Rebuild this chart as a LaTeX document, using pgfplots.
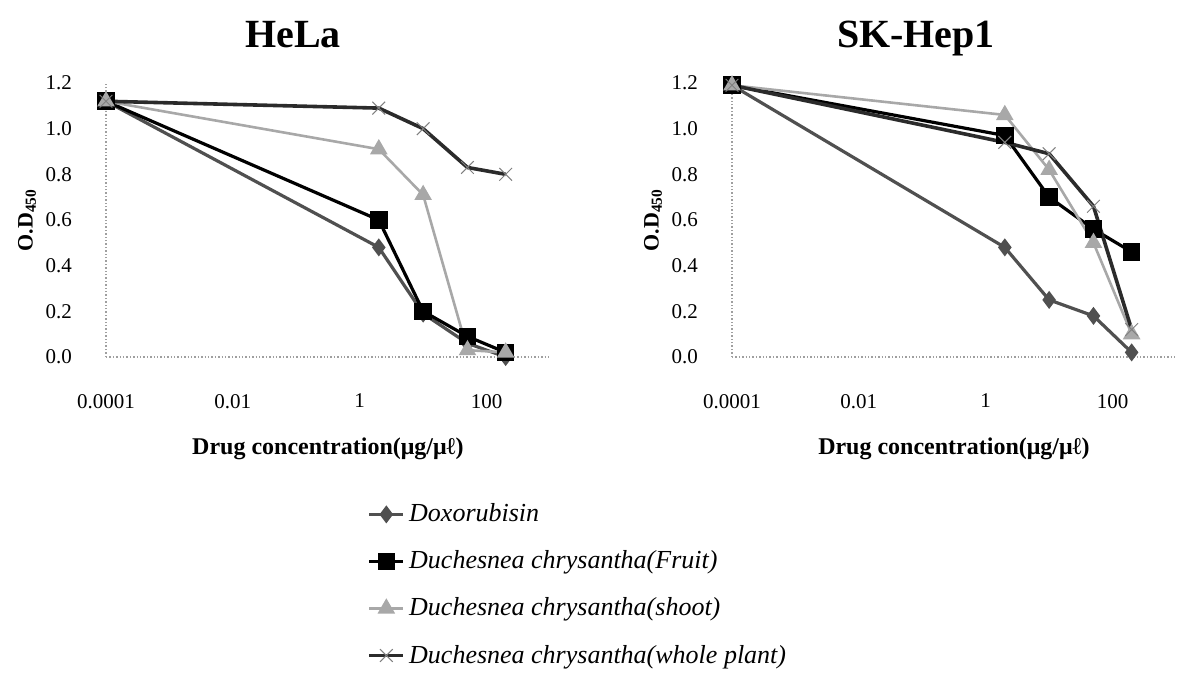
\documentclass[border=0pt]{standalone}
\usepackage{pgfplots}
\pgfplotsset{compat=1.18}
\usepackage{fontspec}
\setmainfont{Liberation Serif}
\definecolor{dox}{HTML}{505050}
\definecolor{shoot}{HTML}{A8A8A8}
\definecolor{whole}{HTML}{2B2B2B}
\begin{document}
\begin{tikzpicture}
\useasboundingbox (0pt,0pt) rectangle (589.5pt,347pt);
\pgfplotsset{
  every axis/.append style={
    scale only axis, width=222pt, height=137pt,
    xmode=log, xmin=1e-4, xmax=1e3, ymin=0, ymax=1.2,
    axis x line=bottom, axis y line=left,
    axis line style={-, draw=gray!75, line width=0.7pt, densely dotted},
    xtick={0.0001,0.01,1,100}, xticklabels={0.0001,0.01,1,100},
    ytick={0,0.2,0.4,0.6,0.8,1.0,1.2},
    yticklabels={0.0,0.2,0.4,0.6,0.8,1.0,1.2},
    major tick length=0pt, minor tick num=0,
    /pgf/number format/assume math mode=true,
    tick label style={font=\fontsize{10.5}{12}\selectfont},
    xticklabel style={yshift=-15pt},
    yticklabel style={xshift=-13.5pt},
    clip=false,
    xlabel={Drug concentration(μg/μℓ)},
    xlabel style={font=\bfseries\fontsize{12}{14}\selectfont, at={(axis description cs:0.5,-0.336)}, anchor=center},
    ylabel={O.D\textsubscript{450}},
    ylabel style={font=\bfseries\fontsize{11}{13}\selectfont, at={(axis description cs:-0.178,0.5)}, anchor=center},
  },
  dox/.style={color=dox, line width=1.6pt, mark=diamond*, mark size=3.2pt, mark options={solid, fill=dox}},
  fruit/.style={color=black, line width=1.6pt, mark=square*, mark size=3.6pt, mark options={solid, fill=black}},
  shoot/.style={color=shoot, line width=1.3pt, mark=triangle*, mark size=3.8pt, mark options={solid, fill=shoot}},
  whole/.style={color=whole, line width=1.8pt, mark=x, mark size=4.5pt, mark options={solid, draw=gray, line width=0.5pt}},
}
\node[font=\bfseries\fontsize{20}{24}\selectfont, anchor=base] at (146.5pt,323pt) {HeLa};
\node[font=\bfseries\fontsize{20}{24}\selectfont, anchor=base] at (458pt,323pt) {SK-Hep1};

\begin{axis}[at={(53pt,168.5pt)}, anchor=south west,
  legend style={at={(axis description cs:0.588,-0.52)}, anchor=north west, draw=none, fill=none,
    font=\itshape\fontsize{13}{15}\selectfont, row sep=9pt, inner sep=0pt},
  legend cell align=left]
\addplot[dox] coordinates {(0.0001,1.12) (2,0.48) (10,0.19) (50,0.06) (200,0.00)};
\addplot[fruit] coordinates {(0.0001,1.12) (2,0.60) (10,0.20) (50,0.09) (200,0.02)};
\addplot[shoot] coordinates {(0.0001,1.12) (2,0.91) (10,0.71) (50,0.03) (200,0.02)};
\addplot[whole] coordinates {(0.0001,1.12) (2,1.09) (10,1.00) (50,0.83) (200,0.80)};
\legend{Doxorubisin, Duchesnea chrysantha(Fruit), Duchesnea chrysantha(shoot), Duchesnea chrysantha(whole plant)}
\end{axis}

\begin{axis}[at={(366pt,168.5pt)}, anchor=south west]
\addplot[dox] coordinates {(0.0001,1.19) (2,0.48) (10,0.25) (50,0.18) (200,0.02)};
\addplot[fruit] coordinates {(0.0001,1.19) (2,0.97) (10,0.70) (50,0.56) (200,0.46)};
\addplot[shoot] coordinates {(0.0001,1.19) (2,1.06) (10,0.82) (50,0.50) (200,0.10)};
\addplot[whole] coordinates {(0.0001,1.19) (2,0.94) (10,0.89) (50,0.66) (200,0.12)};
\end{axis}
\end{tikzpicture}
\end{document}
